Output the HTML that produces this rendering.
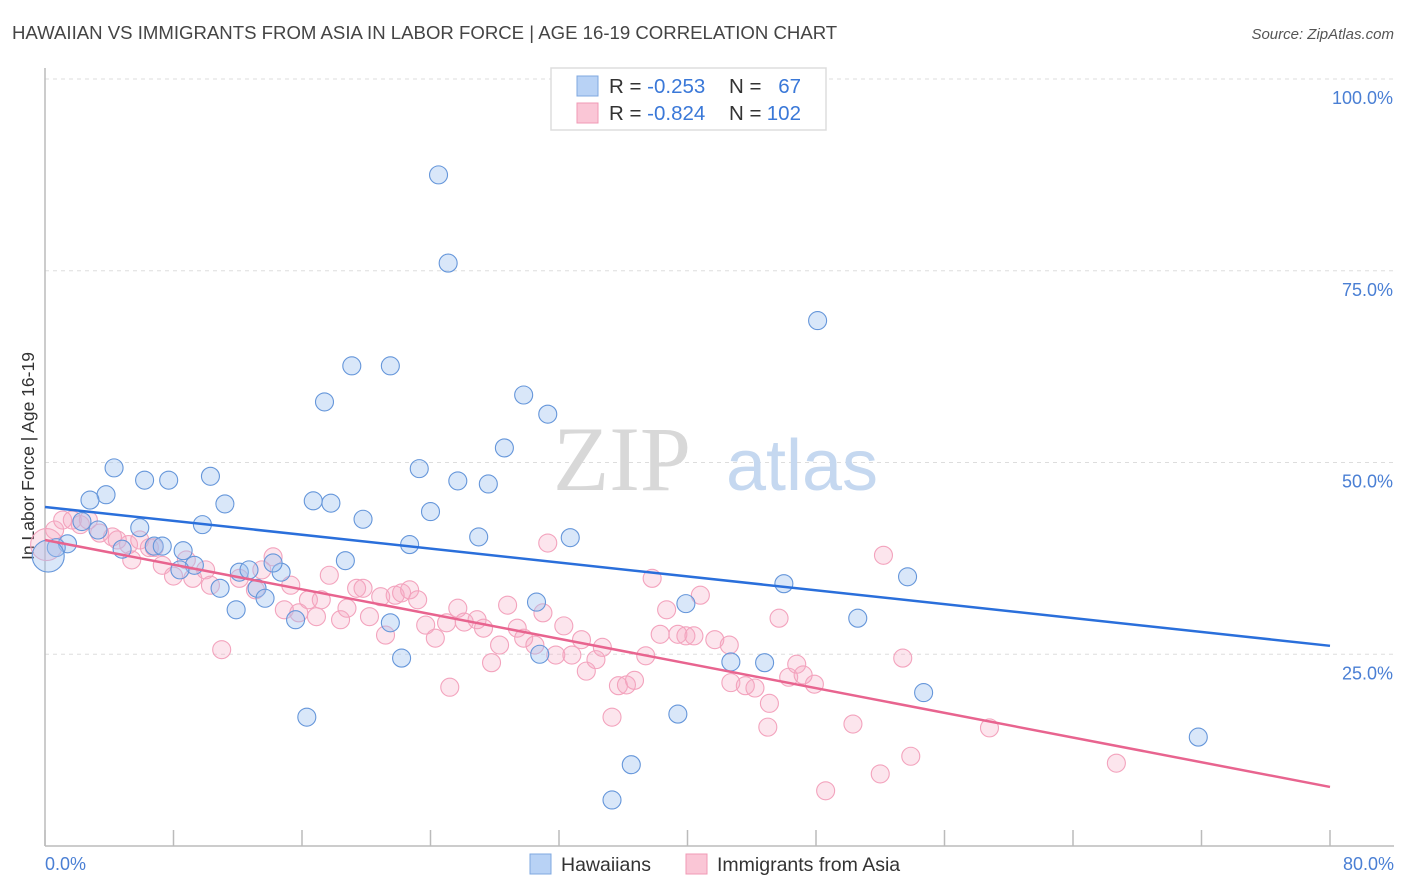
<!DOCTYPE html>
<html><head><meta charset="utf-8"><style>
body{margin:0;background:#fff;font-family:"Liberation Sans",sans-serif}
</style></head><body>
<svg id="chart" width="1406" height="892" xmlns="http://www.w3.org/2000/svg" style="display:block">
<text x="12" y="39" font-size="18.6" fill="#444" font-family="Liberation Sans, sans-serif">HAWAIIAN VS IMMIGRANTS FROM ASIA IN LABOR FORCE | AGE 16-19 CORRELATION CHART</text>
<text x="1394" y="39" font-size="15" fill="#555" text-anchor="end" font-style="italic">Source: ZipAtlas.com</text>
<g id="grid"></g>
<g>
<text x="622" y="490" font-size="92" fill="#d8d8d8" font-family="Liberation Serif, serif" text-anchor="middle">ZIP</text>
<text x="802" y="490" font-size="72" fill="#c5d8f0" text-anchor="middle">atlas</text>
</g>
<line x1="45" y1="68" x2="45" y2="846" stroke="#bbb" stroke-width="1.5"/>
<line x1="45" y1="846" x2="1394" y2="846" stroke="#bbb" stroke-width="1.5"/>
<g id="xticks"></g>
<g id="ylabels"></g>
<text transform="translate(34,456) rotate(-90)" font-size="17.5" fill="#333" text-anchor="middle">In Labor Force | Age 16-19</text>
<text x="45" y="870" font-size="18" fill="#4a7fd4">0.0%</text>
<text x="1394" y="870" font-size="18" fill="#4a7fd4" text-anchor="end">80.0%</text>
<g id="pinkpts"></g>
<g id="bluepts"></g>
<g id="trends"></g>
<g>
<rect x="551" y="68" width="275" height="62" fill="#fff" stroke="#ddd" stroke-width="1.5"/>
<rect x="577" y="76" width="21" height="20" fill="#b8d2f5" stroke="#7fa8e0"/>
<rect x="577" y="103" width="21" height="20" fill="#fac6d6" stroke="#f09ab5"/>
<text x="609" y="93" font-size="20.5" fill="#333">R = <tspan fill="#3a78d8">-0.253</tspan></text>
<text x="729" y="93" font-size="20.5" fill="#333">N = </text><text x="801" y="93" font-size="20.5" fill="#3a78d8" text-anchor="end">67</text>
<text x="609" y="120" font-size="20.5" fill="#333">R = <tspan fill="#3a78d8">-0.824</tspan></text>
<text x="729" y="120" font-size="20.5" fill="#333">N = </text><text x="801" y="120" font-size="20.5" fill="#3a78d8" text-anchor="end">102</text>
</g>
<g>
<rect x="530" y="854" width="21" height="20" fill="#b8d2f5" stroke="#7fa8e0"/>
<text x="561" y="871" font-size="19.5" fill="#333">Hawaiians</text>
<rect x="686" y="854" width="21" height="20" fill="#fac6d6" stroke="#f09ab5"/>
<text x="717" y="871" font-size="19.5" fill="#333">Immigrants from Asia</text>
</g>
</svg>
<script>
const yTicks=[25,50,75,100];
const yTickLabels=["25.0%","50.0%","75.0%","100.0%"];
const xTickVals=[0,8,16,24,32,40,48,56,64,72,80];
const blueX=[24.5,25.1,48.1,19.1,21.5,17.4,29.8,31.3,28.6,23.3,25.7,27.6,4.3,6.2,7.7,10.3,3.8,2.8,11.2,16.7,17.8,24.0,19.8,2.3,5.9,9.8,27.0,32.7,22.7,3.3,1.4,0.7,6.8,7.3,4.8,8.6,9.3,8.4,18.7,12.1,12.7,14.7,14.2,10.9,13.2,13.7,11.9,15.6,21.5,30.6,39.9,46.0,53.7,50.6,22.2,30.8,42.7,44.8,54.7,16.3,39.4,36.5,35.3,71.8];
const blueY=[87.5,76.0,68.5,62.6,62.6,57.9,58.8,56.3,51.9,49.2,47.6,47.2,49.3,47.7,47.7,48.2,45.8,45.1,44.6,45.0,44.7,43.6,42.6,42.3,41.5,41.9,40.3,40.2,39.3,41.2,39.4,38.9,39.1,39.1,38.7,38.5,36.6,36.0,37.2,35.7,36.0,35.7,36.9,33.6,33.6,32.3,30.8,29.5,29.1,31.8,31.6,34.2,35.1,29.7,24.5,25.0,24.0,23.9,20.0,16.8,17.2,10.6,6.0,14.2];
const pinkX=[0.6,1.1,1.7,2.2,2.7,3.4,4.2,5.2,5.9,6.8,4.5,5.4,6.5,7.3,8.0,8.8,9.2,10.0,10.3,11.0,12.1,13.1,13.5,14.2,15.3,14.9,15.8,16.4,17.2,16.9,17.7,18.4,18.8,19.4,19.8,20.2,20.9,21.2,21.8,22.2,22.7,23.2,23.7,24.3,25.0,25.2,25.7,26.1,26.9,27.3,27.8,28.3,28.8,29.4,29.8,30.5,31.0,31.3,31.8,32.3,32.8,33.4,33.7,34.3,34.7,35.3,35.7,36.2,36.7,37.4,37.8,38.3,38.7,39.4,39.9,40.4,40.8,41.7,42.6,42.7,43.6,44.2,45.0,45.1,45.7,46.3,46.8,47.2,47.9,48.6,50.3,52.0,52.2,53.4,53.9,58.8,66.7];
const pinkY=[41.2,42.5,42.5,41.9,42.5,40.8,40.3,39.3,39.9,38.9,39.9,37.3,38.9,36.6,35.2,37.3,34.9,36.0,34.0,25.6,34.9,33.4,36.0,37.7,34.0,30.8,30.4,32.1,32.1,29.9,35.3,29.5,31.0,33.6,33.6,29.9,32.5,27.5,32.7,33.0,33.4,32.1,28.8,27.1,29.1,20.7,31.0,29.2,29.5,28.4,23.9,26.2,31.4,28.4,27.1,26.2,30.4,39.5,24.9,28.7,24.9,26.9,22.8,24.3,25.9,16.8,20.9,21.0,21.6,24.8,34.9,27.6,30.8,27.6,27.4,27.4,32.7,26.9,26.2,21.3,20.9,20.6,15.5,18.6,29.7,22.0,23.7,22.3,21.1,7.2,15.9,9.4,37.9,24.5,11.7,15.4,10.8];
const blueBig=[[0.2,37.8]];
const pinkBig=[[0.1,39.3]];
const blueTrend=[44.2,26.1];
const pinkTrend=[39.9,7.7];
const NS="http://www.w3.org/2000/svg";
const sx=v=>45+v/80*1285;
const sy=v=>846-v/100*767;
function mk(tag,attrs,parent){const e=document.createElementNS(NS,tag);for(const k in attrs)e.setAttribute(k,attrs[k]);parent.appendChild(e);return e;}
const grid=document.getElementById('grid'),yl=document.getElementById('ylabels');
yTicks.forEach((t,i)=>{
 const l=mk('line',{x1:45,x2:1394,y1:sy(t),y2:sy(t),stroke:'#ddd','stroke-dasharray':'4,4'},grid);
 
 
 const tx=mk('text',{x:1393,y:sy(t)+25,'font-size':18,fill:'#4a7fd4','text-anchor':'end'},yl);
 tx.textContent=yTickLabels[i];
 
 
});
const xt=document.getElementById('xticks');
xTickVals.forEach(v=>{
 const l=mk('line',{x1:sx(v),x2:sx(v),y1:830,y2:846,stroke:'#bbb','stroke-width':1.5},xt);
 
 
});
const bp=document.getElementById('bluepts'),pp=document.getElementById('pinkpts');
pinkX.forEach((x,i)=>{
 const c=mk('circle',{cx:sx(x),cy:sy(pinkY[i]),r:9,fill:'rgba(246,168,196,0.3)',stroke:'#f3a3bd','stroke-width':1.1},pp);
 
 
});
pinkBig.forEach(p=>{
 const c=mk('circle',{cx:sx(p[0]),cy:sy(p[1]),r:16,fill:'rgba(246,168,196,0.3)',stroke:'#f3a3bd','stroke-width':1.1},pp);
 
 
});
blueX.forEach((x,i)=>{
 const c=mk('circle',{cx:sx(x),cy:sy(blueY[i]),r:9,fill:'rgba(160,196,240,0.4)',stroke:'#6596da','stroke-width':1.1},bp);
 
 
});
blueBig.forEach(p=>{
 const c=mk('circle',{cx:sx(p[0]),cy:sy(p[1]),r:16,fill:'rgba(160,196,240,0.4)',stroke:'#6596da','stroke-width':1.1},bp);
 
 
});
const tr=document.getElementById('trends');
const bl=mk('line',{x1:sx(0),y1:sy(blueTrend[0]),x2:sx(80),y2:sy(blueTrend[1]),stroke:'#2a6fdb','stroke-width':2.5},tr);


const pl=mk('line',{x1:sx(0),y1:sy(pinkTrend[0]),x2:sx(80),y2:sy(pinkTrend[1]),stroke:'#e8648f','stroke-width':2.5},tr);


</script>
</body></html>
